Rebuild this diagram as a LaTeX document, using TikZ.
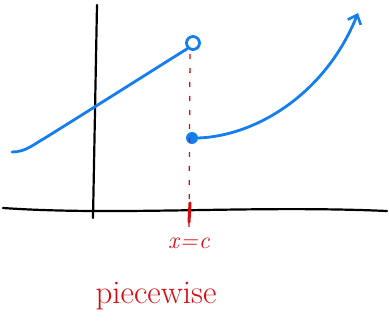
\documentclass[tikz,border=0pt]{standalone}
\usetikzlibrary{arrows.meta}
\definecolor{pblue}{RGB}{20,125,240}
\definecolor{pred}{RGB}{215,10,15}
\tikzset{
  axisline/.style={black,line width=2.2pt,line cap=round},
  graphline/.style={pblue,line width=2.8pt,line cap=round},
  guide/.style={pred,line width=1.3pt,dash pattern=on 5pt off 9pt},
  tickmark/.style={pred,line width=3pt,line cap=round},
  redlabel/.style={pred,inner sep=0pt}
}
\begin{document}
\begin{tikzpicture}[x=1pt,y=-1pt]
\useasboundingbox (0,0) rectangle (389,324);
% axes
\coordinate (vtop) at (97,5);
\coordinate (vbot) at (93,218);
\draw[axisline] (vtop) -- (vbot);
\coordinate (hl) at (3,208);
\coordinate (hr) at (387,211);
\draw[axisline] (hl) .. controls (120,216) and (250,205) .. (hr);
% open circle and filled dot
\node[draw=pblue,line width=2.8pt,circle,minimum size=13pt,inner sep=0pt] (open) at (193,43) {};
\node[fill=pblue,circle,minimum size=12pt,inner sep=0pt] (dot) at (192,138) {};
% red dashed guide
\coordinate (gtop) at (190,54);
\coordinate (gbot) at (189,228);
\draw[guide] (gtop) -- (gbot);
\coordinate (ttop) at (190,203);
\coordinate (tbot) at (189,222);
\draw[tickmark] (ttop) -- (tbot);
% left piece
\coordinate (lstart) at (12,152);
\coordinate (lmid) at (45,138);
\draw[graphline] (lstart) .. controls (26,152) and (34,144) .. (lmid)
  .. controls (90,110) and (150,72) .. (open.south west);
% right piece with arrow
\coordinate (rend) at (358,13);
\draw[graphline,-{Straight Barb[length=8pt,width=14pt,line width=2.6pt]}] (dot.east) .. controls (255,136) and (325,95) .. (rend);
% labels
\node[redlabel] (xc) at (189,243) {\fontsize{24}{28}\selectfont\itshape x\kern1pt=\kern1pt c};
\node[redlabel] (pw) at (156,296) {\fontsize{33}{38}\selectfont piecewise};
\end{tikzpicture}
\end{document}
